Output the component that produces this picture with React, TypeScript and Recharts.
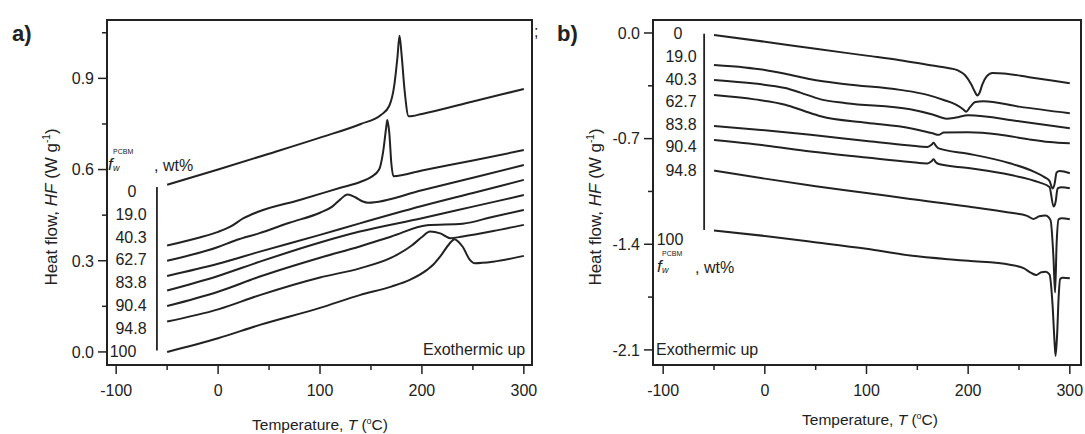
import React from "react";
import { LineChart, Line, XAxis, YAxis, ReferenceArea, ReferenceLine } from "recharts";

const fractions = ["0", "19.0", "40.3", "62.7", "83.8", "90.4", "94.8", "100"];
const xTicks = [-100, -50, 0, 50, 100, 150, 200, 250, 300];
const aYTicks = [0, 0.15, 0.3, 0.45, 0.6, 0.75, 0.9, 1.05];
const bYTicks = [-2.1, -1.75, -1.4, -1.05, -0.7, -0.35, 0];

// a) heating scans, [T (°C), HF (W/g)]
const a0 = [[-50, 0.55], [0, 0.6], [50, 0.652], [100, 0.705], [140, 0.75], [160, 0.78], [168, 0.81], [173, 0.88], [176, 0.97], [178, 1.04], [180, 0.98], [183, 0.86], [187, 0.775], [200, 0.783], [250, 0.824], [300, 0.865]];
const a19 = [[-50, 0.35], [-20, 0.375], [0, 0.395], [12, 0.412], [25, 0.44], [40, 0.462], [80, 0.5], [120, 0.54], [140, 0.56], [150, 0.575], [158, 0.6], [162, 0.66], [165, 0.74], [166, 0.763], [168, 0.72], [170, 0.62], [172, 0.578], [200, 0.597], [250, 0.63], [300, 0.664]];
const a40 = [[-50, 0.3], [0, 0.345], [18, 0.368], [40, 0.39], [70, 0.425], [100, 0.458], [112, 0.478], [120, 0.502], [127, 0.518], [135, 0.508], [142, 0.495], [147, 0.491], [200, 0.532], [250, 0.573], [300, 0.615]];
const a62 = [[-50, 0.25], [0, 0.29], [41, 0.33], [100, 0.385], [139, 0.423], [200, 0.48], [250, 0.523], [300, 0.566]];
const a83 = [[-50, 0.202], [0, 0.25], [41, 0.297], [100, 0.36], [139, 0.396], [200, 0.44], [250, 0.478], [300, 0.516]];
const a90 = [[-50, 0.151], [0, 0.198], [41, 0.248], [100, 0.31], [139, 0.347], [170, 0.38], [205, 0.417], [240, 0.422], [270, 0.445], [300, 0.467]];
const a94 = [[-50, 0.1], [0, 0.14], [41, 0.187], [100, 0.245], [139, 0.275], [170, 0.31], [190, 0.35], [200, 0.378], [208, 0.396], [218, 0.39], [228, 0.374], [240, 0.38], [270, 0.398], [300, 0.418]];
const a100 = [[-50, 0.0], [0, 0.045], [41, 0.089], [100, 0.145], [139, 0.187], [170, 0.215], [188, 0.237], [205, 0.27], [212, 0.29], [218, 0.314], [227, 0.356], [232, 0.371], [236, 0.362], [240, 0.346], [247, 0.303], [252, 0.292], [270, 0.297], [300, 0.316]];

// b) cooling scans, [T (°C), HF (W/g)]
const b0 = [[-50, -0.013], [0, -0.058], [50, -0.105], [100, -0.15], [133, -0.18], [160, -0.21], [180, -0.232], [190, -0.248], [197, -0.28], [203, -0.34], [207, -0.395], [209, -0.415], [211, -0.4], [214, -0.34], [218, -0.29], [224, -0.265], [235, -0.268], [260, -0.293], [300, -0.333]];
const b19 = [[-50, -0.212], [-20, -0.228], [0, -0.245], [20, -0.27], [45, -0.307], [80, -0.34], [133, -0.377], [160, -0.41], [176, -0.444], [188, -0.475], [195, -0.505], [198, -0.522], [202, -0.49], [207, -0.458], [215, -0.452], [250, -0.488], [300, -0.532]];
const b40 = [[-50, -0.311], [-10, -0.335], [20, -0.365], [35, -0.395], [55, -0.44], [80, -0.465], [143, -0.505], [165, -0.54], [179, -0.568], [188, -0.56], [200, -0.545], [250, -0.585], [300, -0.631]];
const b62 = [[-50, -0.411], [-10, -0.44], [20, -0.475], [40, -0.52], [55, -0.552], [100, -0.595], [143, -0.631], [165, -0.665], [171, -0.675], [176, -0.66], [200, -0.658], [230, -0.672], [260, -0.705], [280, -0.722], [300, -0.731]];
const b83 = [[-50, -0.616], [0, -0.645], [45, -0.675], [100, -0.715], [143, -0.745], [160, -0.755], [164, -0.74], [166, -0.727], [168, -0.745], [171, -0.765], [200, -0.8], [241, -0.863], [265, -0.92], [275, -0.955], [280, -0.98], [283, -1.03], [285, -1.0], [287, -0.925], [290, -0.915], [300, -0.929]];
const b90 = [[-50, -0.709], [0, -0.745], [45, -0.786], [100, -0.825], [143, -0.855], [160, -0.865], [164, -0.85], [166, -0.837], [168, -0.855], [171, -0.868], [200, -0.895], [241, -0.94], [270, -0.99], [280, -1.02], [284, -1.15], [286, -1.12], [288, -1.03], [292, -1.022], [300, -1.029]];
const b94 = [[-50, -0.912], [0, -0.965], [50, -1.015], [100, -1.06], [143, -1.1], [200, -1.15], [240, -1.19], [258, -1.212], [264, -1.232], [270, -1.215], [276, -1.21], [281, -1.24], [284, -1.5], [285.5, -1.72], [287, -1.4], [289, -1.235], [292, -1.228], [300, -1.234]];
const b100 = [[-50, -1.309], [0, -1.345], [44, -1.382], [100, -1.43], [143, -1.475], [200, -1.51], [241, -1.536], [255, -1.56], [262, -1.59], [267, -1.603], [272, -1.585], [276, -1.582], [280, -1.6], [283, -1.8], [285, -2.05], [286, -2.14], [287.5, -2.0], [289, -1.75], [290.5, -1.63], [293, -1.622], [300, -1.625]];

const aSeries = [a0, a19, a40, a62, a83, a90, a94, a100];
const bSeries = [b0, b19, b40, b62, b83, b90, b94, b100];

const INK = "#222";
const FONT = "'Liberation Sans', Arial, sans-serif";
const toPts = (arr: number[][]) => arr.map(([x, y]) => ({ x, y }));

const XTick = (props: any) => {
  const { x, y, payload } = props;
  const major = payload.value % 100 === 0;
  return (
    <g>
      <line x1={x} x2={x} y1={y} y2={y + (major ? 9 : 5)} stroke={INK} strokeWidth={1.5} />
      {major && (
        <text x={x} y={y + 31} textAnchor="middle" fontSize={16} fill={INK} fontFamily={FONT}>
          {payload.value}
        </text>
      )}
    </g>
  );
};

const makeYTick = (step: number) => (props: any) => {
  const { x, y, payload } = props;
  const v = payload.value;
  const major = Math.abs(v / step - Math.round(v / step)) < 1e-6;
  return (
    <g>
      <line x1={x} x2={x - (major ? 9 : 5)} y1={y} y2={y} stroke={INK} strokeWidth={1.5} />
      {major && (
        <text x={x - 13} y={y} dy="0.36em" textAnchor="end" fontSize={16} fill={INK} fontFamily={FONT}>
          {Math.abs(v) < 1e-9 ? "0.0" : v.toFixed(1)}
        </text>
      )}
    </g>
  );
};

const Panel = (props: {
  series: number[][][];
  xDomain: [number, number];
  yDomain: [number, number];
  yTicks: number[];
  step: number;
  width: number;
  yWidth: number;
  right: number;
  arrow: [number, number, number];
}) => {
  const { series, xDomain, yDomain, yTicks, step, width, yWidth, right, arrow } = props;
  return (
    <LineChart width={width} height={434} margin={{ top: 20, right, bottom: 0, left: 0 }}>
      <XAxis
        type="number"
        dataKey="x"
        domain={xDomain}
        allowDataOverflow
        ticks={xTicks}
        interval={0}
        height={69}
        tickSize={0}
        tickMargin={0}
        tickLine={false}
        axisLine={{ stroke: INK, strokeWidth: 2 }}
        tick={<XTick />}
      />
      <YAxis
        type="number"
        dataKey="y"
        domain={yDomain}
        allowDataOverflow
        ticks={yTicks}
        interval={0}
        width={yWidth}
        tickSize={0}
        tickMargin={0}
        tickLine={false}
        axisLine={{ stroke: INK, strokeWidth: 2 }}
        tick={makeYTick(step)}
      />
      <ReferenceArea
        x1={xDomain[0]}
        x2={xDomain[1]}
        y1={yDomain[0]}
        y2={yDomain[1]}
        fill="none"
        fillOpacity={0}
        stroke={INK}
        strokeWidth={2}
        ifOverflow="visible"
      />
      <ReferenceLine
        segment={[
          { x: arrow[0], y: arrow[1] },
          { x: arrow[0], y: arrow[2] },
        ]}
        stroke={INK}
        strokeWidth={1.8}
        ifOverflow="visible"
      />
      {series.map((s, i) => (
        <Line
          key={i}
          data={toPts(s)}
          dataKey="y"
          type="monotone"
          stroke={INK}
          strokeWidth={2}
          dot={false}
          isAnimationActive={false}
        />
      ))}
    </LineChart>
  );
};

const abs = (left: number, top: number, extra: React.CSSProperties = {}): React.CSSProperties => ({
  position: "absolute",
  left,
  top,
  fontFamily: FONT,
  color: INK,
  fontSize: 16,
  lineHeight: 1,
  whiteSpace: "nowrap",
  ...extra,
});

const Fw = (props: { left: number; top: number; gap: number }) => (
  <div style={abs(props.left, props.top)}>
    <span style={{ fontStyle: "italic", fontSize: 17 }}>f</span>
    <span style={{ position: "absolute", left: 5, top: -8, fontSize: 7 }}>PCBM</span>
    <span style={{ position: "absolute", left: 5, top: 8, fontSize: 9, fontStyle: "italic" }}>w</span>
    <span style={{ position: "absolute", left: props.gap, top: 2 }}>, wt%</span>
  </div>
);

const YTitle = (props: { cx: number; cy: number }) => (
  <div
    style={abs(props.cx, props.cy, {
      fontSize: 17,
      transform: "translate(-50%, -50%) rotate(-90deg)",
    })}
  >
    Heat flow, <i>HF</i> (W g<sup style={{ fontSize: 10 }}>-1</sup>)
  </div>
);

const XTitle = (props: { cx: number; cy: number }) => (
  <div style={abs(props.cx, props.cy, { fontSize: 15.5, transform: "translate(-50%, -50%)" })}>
    Temperature, <i>T</i> (<sup style={{ fontSize: 9 }}>o</sup>C)
  </div>
);

export default function App() {
  const aLabelX = [132, 131, 131, 131, 131, 131, 131, 123];
  const bLabelX = [678, 681, 681, 681, 681, 681, 681, 670];
  const bLabelY = [34, 57, 80, 102, 125, 147, 171, 240];
  return (
    <div style={{ position: "absolute", left: 0, top: 0, width: 1085, height: 434, background: "#fff", overflow: "hidden" }}>
      <div style={{ position: "absolute", left: 0, top: 0 }}>
        <Panel
          series={aSeries}
          xDomain={[-109, 308]}
          yDomain={[-0.043, 1.092]}
          yTicks={aYTicks}
          step={0.3}
          width={545}
          yWidth={107}
          right={13}
          arrow={[-60, 0.543, 0.005]}
        />
      </div>
      <div style={{ position: "absolute", left: 545, top: 0 }}>
        <Panel
          series={bSeries}
          xDomain={[-110, 311]}
          yDomain={[-2.2, 0.086]}
          yTicks={bYTicks}
          step={0.7}
          width={540}
          yWidth={108}
          right={4}
          arrow={[-59.7, -0.005, -1.305]}
        />
      </div>

      {fractions.map((f, i) => (
        <div key={"a" + f} style={abs(aLabelX[i], 191.7 + i * 22.9, { transform: "translate(-50%, -50%)" })}>
          {f}
        </div>
      ))}
      {fractions.map((f, i) => (
        <div key={"b" + f} style={abs(bLabelX[i], bLabelY[i], { transform: "translate(-50%, -50%)" })}>
          {f}
        </div>
      ))}

      <Fw left={108} top={156} gap={46} />
      <Fw left={657} top={258} gap={38} />

      <div style={abs(423, 342)}>Exothermic up</div>
      <div style={abs(656, 342)}>Exothermic up</div>

      <YTitle cx={51} cy={207} />
      <YTitle cx={595} cy={207} />
      <XTitle cx={320} cy={425} />
      <XTitle cx={870} cy={420} />

      <div style={abs(12, 23, { fontSize: 22, fontWeight: "bold" })}>a)</div>
      <div style={abs(557, 23, { fontSize: 22, fontWeight: "bold" })}>b)</div>
      <div style={abs(534, 24, { fontSize: 16 })}>;</div>
    </div>
  );
}
